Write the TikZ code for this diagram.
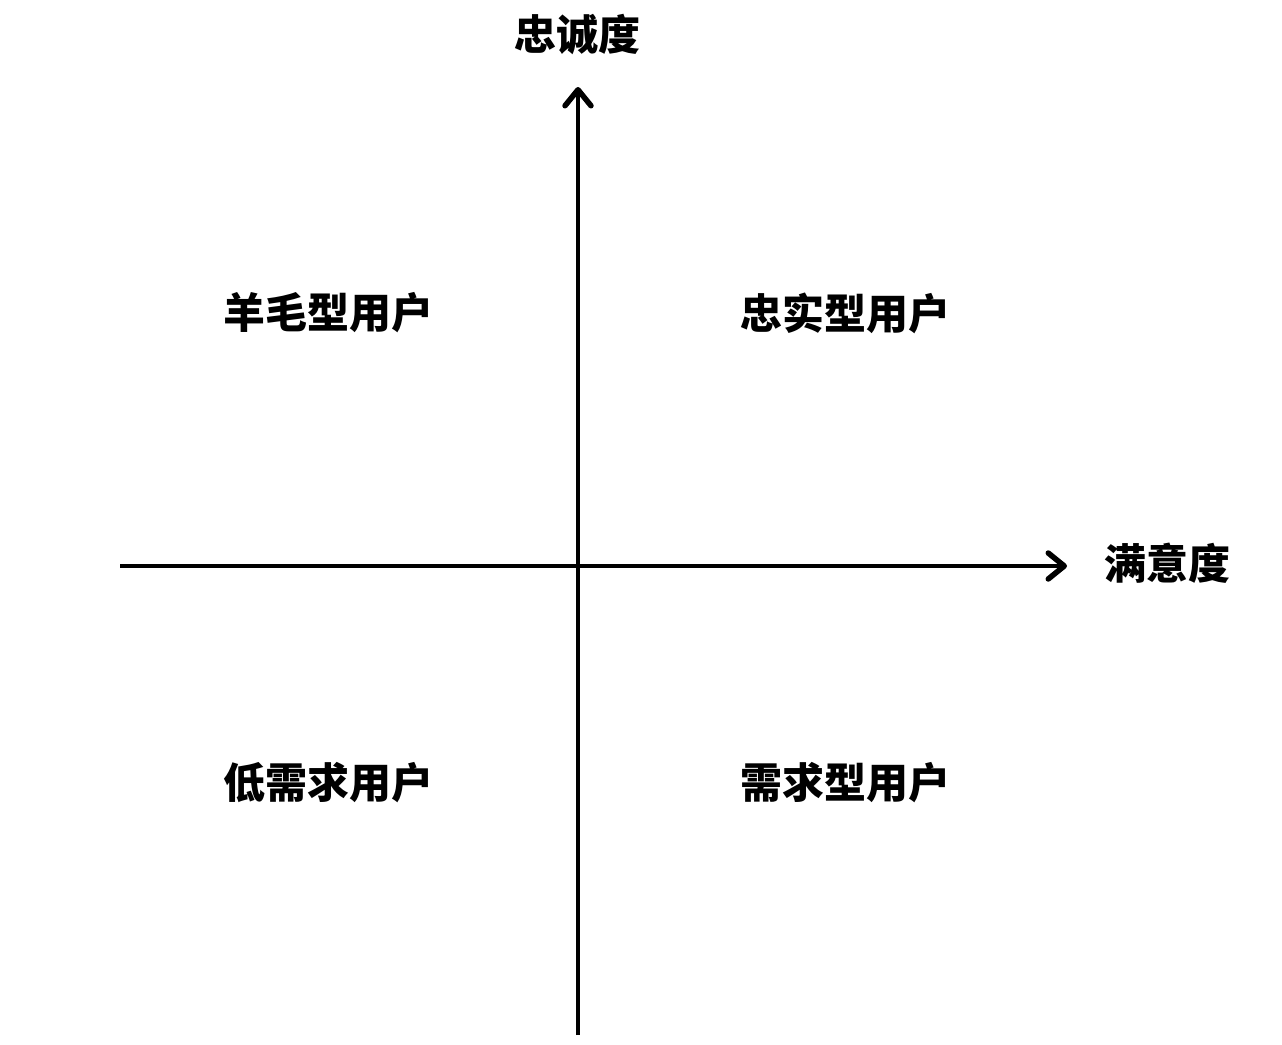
\documentclass[tikz,border=0pt]{standalone}
\usepackage{fontspec}
\newfontfamily\cjk{Noto Sans CJK SC}
\usetikzlibrary{arrows.meta}
\tikzset{
  axis/.style={line width=4pt, -{Straight Barb[length=16pt 0, width=26pt 0, line width=5.5pt 0, round]}},
  lbl/.style={font=\cjk\bfseries\fontsize{42}{46}\selectfont, inner sep=0pt, anchor=center}
}
\begin{document}
\begin{tikzpicture}[x=1pt,y=-1pt]
\useasboundingbox[fill=white] (0,0) rectangle (1282,1044);
\coordinate (ybot) at (578,1035);
\coordinate (ytop) at (578,87);
\coordinate (xl) at (120,566);
\coordinate (xr) at (1067,566);
\draw[axis] (ybot) -- (ytop);
\draw[axis] (xl) -- (xr);
\node[lbl] (ylab) at (577,35) {忠诚度};
\node[lbl] (xlab) at (1167,563) {满意度};
\node[lbl] (q2) at (328,313) {羊毛型用户};
\node[lbl] (q1) at (845,313) {忠实型用户};
\node[lbl] (q3) at (328,783) {低需求用户};
\node[lbl] (q4) at (845,783) {需求型用户};
\end{tikzpicture}
\end{document}
